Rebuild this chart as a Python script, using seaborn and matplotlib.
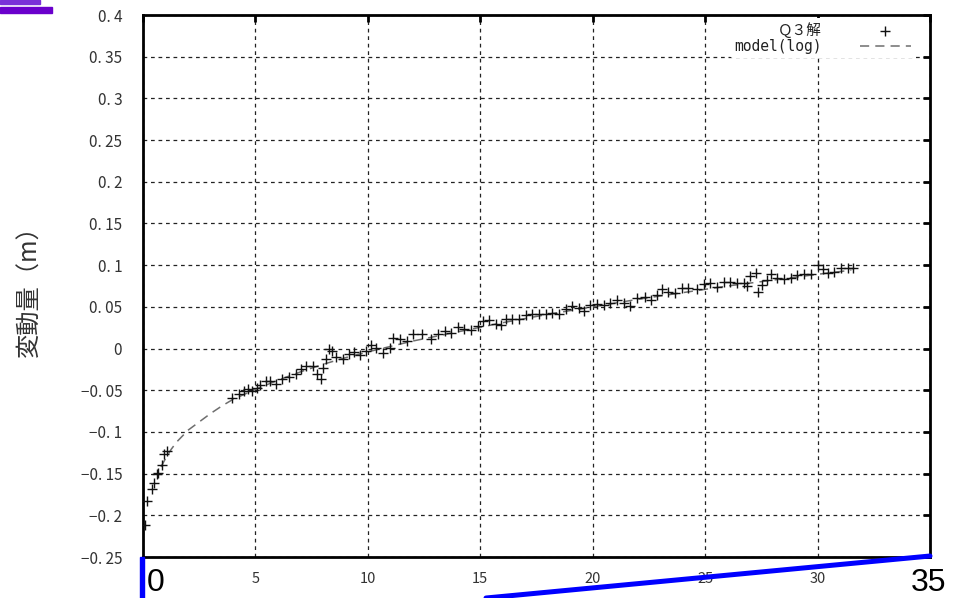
import matplotlib
matplotlib.use("Agg")
import matplotlib.pyplot as plt
from matplotlib.lines import Line2D
from matplotlib.patches import Rectangle
import seaborn as sns
import pandas as pd

# measured displacement, first days
early_x = [0.09, 0.16, 0.39, 0.49, 0.61, 0.68, 0.86, 0.93, 1.05]
early_y = [-0.212, -0.183, -0.168, -0.161, -0.150, -0.149, -0.140, -0.126, -0.123]

# measured displacement, day 4 onwards
main_x = [3.96, 4.25, 4.48, 4.67, 4.85, 5.07, 5.22, 5.45, 5.67, 5.90,
          6.19, 6.49, 6.79, 7.01, 7.24, 7.54, 7.76, 7.91, 7.99, 8.13,
          8.28, 8.40, 8.58, 8.88, 9.18, 9.40, 9.63, 9.93, 10.15, 10.37,
          10.67, 10.97, 11.12, 11.42, 11.72, 12.01, 12.39,
          12.82, 13.11, 13.41, 13.70, 14.00, 14.29, 14.59, 14.88, 15.10, 15.40,
          15.69, 15.91, 16.14, 16.43, 16.73, 17.02, 17.32, 17.61, 17.91, 18.20,
          18.50, 18.79, 19.09, 19.38, 19.60, 19.90, 20.19, 20.49, 20.78, 21.08,
          21.37, 21.67, 21.96,
          22.31, 22.61, 22.84, 23.06, 23.36, 23.66, 23.96, 24.25, 24.63, 24.93,
          25.22, 25.52, 25.82, 26.12, 26.42, 26.72, 26.87, 27.01, 27.24, 27.34,
          27.54, 27.76, 27.91, 28.21, 28.51, 28.81, 29.10, 29.40, 29.70, 30.00,
          30.22, 30.45, 30.75, 31.04, 31.34, 31.57]
main_y = [-0.059, -0.054, -0.051, -0.049, -0.051, -0.047, -0.044, -0.039, -0.039, -0.043,
          -0.036, -0.034, -0.031, -0.025, -0.021, -0.021, -0.031, -0.037, -0.023, -0.013,
          -0.001, -0.003, -0.010, -0.012, -0.007, -0.004, -0.008, -0.003, 0.004, 0.001,
          -0.005, 0.001, 0.013, 0.011, 0.009, 0.017, 0.017,
          0.011, 0.018, 0.021, 0.019, 0.026, 0.024, 0.022, 0.027, 0.033, 0.034,
          0.029, 0.028, 0.035, 0.035, 0.036, 0.040, 0.041, 0.042, 0.042, 0.043,
          0.042, 0.047, 0.051, 0.049, 0.045, 0.052, 0.053, 0.052, 0.055, 0.058,
          0.055, 0.051, 0.061,
          0.062, 0.058, 0.064, 0.072, 0.068, 0.067, 0.073, 0.073, 0.071, 0.077,
          0.078, 0.074, 0.080, 0.080, 0.079, 0.078, 0.075, 0.087, 0.090, 0.068,
          0.076, 0.082, 0.089, 0.084, 0.083, 0.084, 0.088, 0.089, 0.089, 0.100,
          0.095, 0.091, 0.092, 0.096, 0.097, 0.097]

# log model
model_x = [0.8, 1.0, 1.25, 1.5, 1.75, 2.0, 2.5, 3.0, 3.5, 4.0, 5, 6, 7, 8, 9, 10,
           12, 14, 16, 18, 20, 22, 24, 26, 28, 30, 31.5]
model_y = [-0.142, -0.132, -0.121, -0.112, -0.105, -0.098, -0.088, -0.078, -0.069, -0.061,
           -0.049, -0.038, -0.028, -0.019, -0.011, -0.004, 0.009, 0.020, 0.031, 0.041,
           0.050, 0.059, 0.067, 0.075, 0.082, 0.089, 0.094]

x_ticks = [0, 5, 10, 15, 20, 25, 30, 35]
x_tick_labels = ["", "5", "10", "15", "20", "25", "30", ""]
y_ticks = [-0.25, -0.2, -0.15, -0.1, -0.05, 0, 0.05, 0.1, 0.15, 0.2, 0.25, 0.3, 0.35, 0.4]
y_tick_labels = ["−0. 25", "−0. 2", "−0. 15", "−0. 1", "−0. 05", "0", "0. 05",
                 "0. 1", "0. 15", "0. 2", "0. 25", "0. 3", "0. 35", "0. 4"]

sns.set_style("white")
plt.rcParams["font.family"] = ["Noto Sans CJK JP", "DejaVu Sans"]

pts = pd.DataFrame({"t": early_x + main_x, "v": early_y + main_y})
model = pd.DataFrame({"t": model_x, "v": model_y})

W, H = 965, 598
fig = plt.figure(figsize=(W / 100, H / 100), dpi=100)
ax = fig.add_axes([143 / W, 1 - 557 / H, 787 / W, 542 / H])

sns.lineplot(data=model, x="t", y="v", color="#6e6e6e", linewidth=1.1,
             linestyle=(0, (6, 4)), sort=False, estimator=None,
             label="model(log)", ax=ax, zorder=2)
sns.scatterplot(data=pts, x="t", y="v", marker="+", s=60, color="#111111",
                linewidth=1.0, label="Ｑ３解", ax=ax, zorder=3)

ax.set_xlim(0, 35)
ax.set_ylim(-0.25, 0.4)
ax.set_xticks(x_ticks)
ax.set_xticklabels(x_tick_labels)
ax.set_yticks(y_ticks)
ax.set_yticklabels(y_tick_labels)
ax.set_xlabel("")
ax.set_ylabel("")

ax.grid(True, color="#222222", linestyle=(0, (3, 3)), linewidth=0.9)
ax.set_axisbelow(True)
for sp in ax.spines.values():
    sp.set_linewidth(2)
    sp.set_color("black")
ax.tick_params(direction="in", top=True, right=True, length=5, width=2,
               color="black", labelcolor="#333333")
ax.tick_params(axis="y", labelsize=11, pad=15)
ax.tick_params(axis="x", labelsize=10.5, pad=11)

# big 0 / 35 written under the axis ends
fig.text(147 / W, 0, "0", ha="left", va="bottom", fontsize=23,
         fontfamily="Liberation Sans", color="black")
fig.text(929 / W, 0, "35", ha="center", va="bottom", fontsize=23,
         fontfamily="Liberation Sans", color="black")

handles, labels = ax.get_legend_handles_labels()
order = [labels.index("Ｑ３解"), labels.index("model(log)")]
leg = ax.legend([handles[i] for i in order], [labels[i] for i in order],
                loc="upper right", bbox_to_anchor=(1 - 15 / 787, 1 - 3 / 542),
                markerfirst=False, frameon=True,
                facecolor="white", edgecolor="none", framealpha=1,
                fontsize=10.5, handlelength=3.5, handletextpad=2.6,
                labelspacing=0.05, borderaxespad=0.0, borderpad=0.3)
for t in leg.get_texts():
    t.set_color("#222222")
leg.get_texts()[1].set_fontfamily("DejaVu Sans Mono")

fig.text(30 / W, 1 - 285 / H, "変動量（m）", rotation=90, ha="center", va="center",
         fontsize=17.5, color="#333333")

# blue and purple marks on the screenshot
fig.add_artist(Rectangle((140 / W, 0), 4 / W, 41 / H, color="#0000ff",
                         transform=fig.transFigure, clip_on=False))
fig.add_artist(Line2D([486 / W, 930 / W], [0, 42 / H], color="#0000ff", linewidth=3.6,
                      transform=fig.transFigure, clip_on=False))
fig.add_artist(Rectangle((0, 1 - 13 / H), 52 / W, 6 / H, color="#6a00cc",
                         transform=fig.transFigure, clip_on=False))
fig.add_artist(Rectangle((0, 1 - 3.5 / H), 40 / W, 3.5 / H, color="#7a30d8",
                         transform=fig.transFigure, clip_on=False))

fig.savefig("out.png", dpi=100)
